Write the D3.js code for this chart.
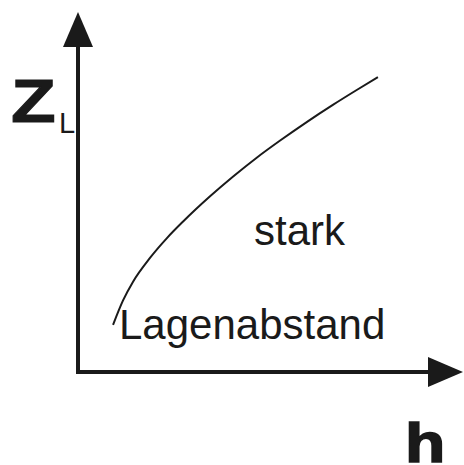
<!DOCTYPE html>
<html>
<head>
<meta charset="utf-8">
<script src="https://cdn.jsdelivr.net/npm/d3@7"></script>
<style>
  body { margin: 0; background: #fff; }
  svg { display: block; }
  text { font-family: "Liberation Sans", Arial, sans-serif; fill: #1a1a1a; }
</style>
</head>
<body>
<div id="chart"></div>
<script>
// curve: layer spacing z_L over h (axis units 0..10)
var hVals = [0.91, 1.17, 1.43, 1.87, 2.31, 2.73, 3.43, 4.03, 4.65, 5.25, 5.95, 6.62, 7.25, 7.79];
var zVals = [1.31, 1.99, 2.51, 3.17, 3.72, 4.18, 4.88, 5.43, 5.96, 6.43, 6.95, 7.42, 7.84, 8.19];

var yLabel = "Z";
var ySub = "L";
var xLabel = "h";
var notes = ["stark", "Lagenabstand"];

var width = 464, height = 465;
var ink = "#1a1a1a";

var svg = d3.select("#chart")
  .append("svg")
    .attr("width", width)
    .attr("height", height);

// scales, axis tips sit at 10
var x = d3.scaleLinear().domain([0, 10]).range([78, 463]);
var y = d3.scaleLinear().domain([0, 10]).range([372, 12]);

var arrowLen = 35, arrowHalf = 15;

// y axis
svg.append("line")
  .attr("x1", x(0)).attr("y1", y(0) + 2)
  .attr("x2", x(0)).attr("y2", y(10) + arrowLen - 2)
  .attr("stroke", ink)
  .attr("stroke-width", 4);

svg.append("path")
  .attr("d", "M" + x(0) + "," + y(10) +
             "L" + (x(0) - arrowHalf) + "," + (y(10) + arrowLen) +
             "L" + (x(0) + arrowHalf) + "," + (y(10) + arrowLen) + "Z")
  .attr("fill", ink);

// x axis
svg.append("line")
  .attr("x1", x(0) - 2).attr("y1", y(0))
  .attr("x2", x(10) - arrowLen + 2).attr("y2", y(0))
  .attr("stroke", ink)
  .attr("stroke-width", 4);

svg.append("path")
  .attr("d", "M" + x(10) + "," + y(0) +
             "L" + (x(10) - arrowLen) + "," + (y(0) - arrowHalf) +
             "L" + (x(10) - arrowLen) + "," + (y(0) + arrowHalf) + "Z")
  .attr("fill", ink);

// curve
var pts = hVals.map(function(h, i) { return [h, zVals[i]]; });
var line = d3.line()
  .x(function(d) { return x(d[0]); })
  .y(function(d) { return y(d[1]); })
  .curve(d3.curveMonotoneX);

svg.append("path")
  .datum(pts)
  .attr("d", line)
  .attr("fill", "none")
  .attr("stroke", ink)
  .attr("stroke-width", 2);

// axis labels
svg.append("text")
  .attr("transform", "translate(11,122) scale(1.2,1)")
  .style("font-size", "61px")
  .style("font-weight", "bold")
  .attr("stroke", ink)
  .attr("stroke-width", 1)
  .text(yLabel);

svg.append("text")
  .attr("x", 59).attr("y", 133)
  .style("font-size", "29px")
  .text(ySub);

svg.append("text")
  .attr("transform", "translate(405,462) scale(1.2,1)")
  .style("font-size", "55px")
  .style("font-weight", "bold")
  .attr("stroke", ink)
  .attr("stroke-width", 1.5)
  .text(xLabel);

// annotations
svg.append("text")
  .attr("x", 254).attr("y", 245)
  .style("font-size", "42px")
  .text(notes[0]);

svg.append("text")
  .attr("x", 119).attr("y", 339)
  .style("font-size", "42px")
  .text(notes[1]);
</script>
</body>
</html>
